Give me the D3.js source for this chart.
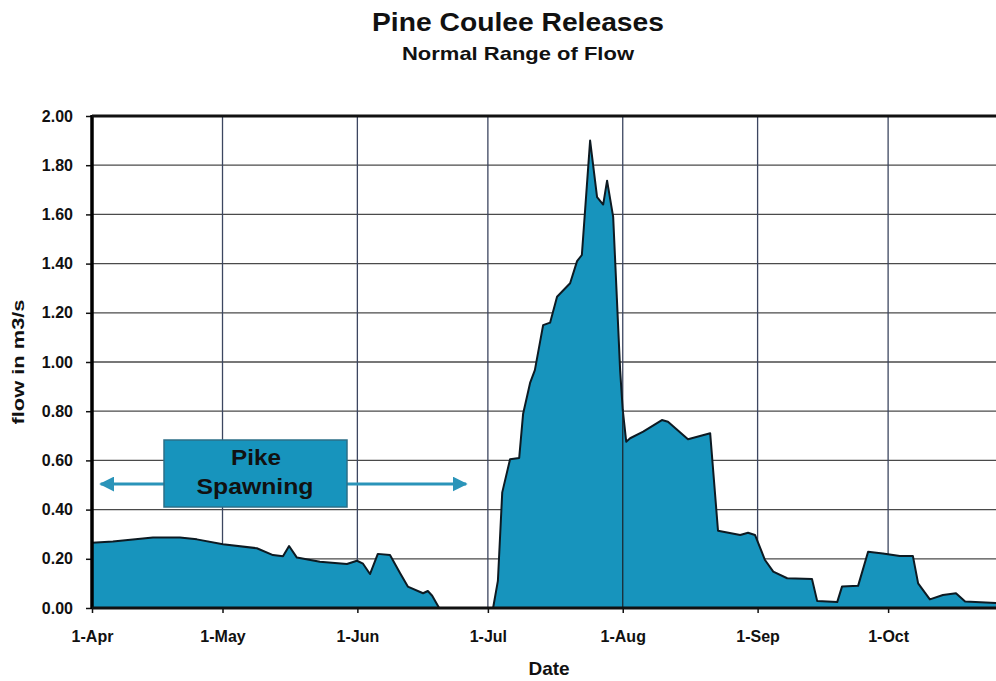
<!DOCTYPE html>
<html><head><meta charset="utf-8">
<script src="https://cdn.jsdelivr.net/npm/d3@7"></script>
<style>
body{margin:0;background:#fff;}
text{font-family:"Liberation Sans",Arial,sans-serif;font-weight:bold;fill:#111;}
</style></head>
<body><svg id="c" width="996" height="681"></svg>
<script>
// Day offsets from 1-Apr and flow values (m3/s)
const dayOffsets = [0,4.8,14,20.2,24.1,30.1,37.9,41.6,43.9,45.3,47.1,52.4,58.6,60.9,62.3,63.9,65.7,68.5,70.8,72.6,76.1,77.2,78.2,79.8,
  92.2,93.3,94.3,96.1,98.2,99.1,100.7,101.8,103.7,105.3,106.9,109.9,111.5,112.6,114.5,116.1,117.5,118.4,119.8,121.4,122,122.8,
  123.7,126.7,131.0,132.4,137.0,142.1,143.9,149.0,150.8,152.4,154.7,156.6,159.8,165.5,166.7,171.3,172.4,176.1,178.4,181.8,
  185.7,188.7,189.9,192.6,195.6,198.6,200.7,207.8];
const flowValues = [0.265,0.27,0.287,0.287,0.279,0.259,0.243,0.215,0.21,0.252,0.205,0.188,0.179,0.192,0.18,0.138,0.22,0.215,0.142,0.087,0.06,0.069,0.05,0.0,
  0.0,0.11,0.47,0.605,0.61,0.79,0.915,0.967,1.15,1.16,1.265,1.32,1.41,1.435,1.90,1.67,1.64,1.737,1.59,0.967,0.805,0.676,
  0.69,0.717,0.764,0.757,0.686,0.71,0.314,0.297,0.306,0.297,0.195,0.148,0.121,0.118,0.028,0.024,0.087,0.09,0.229,0.222,
  0.211,0.211,0.1,0.035,0.053,0.06,0.026,0.02];
const monthLabels = ["1-Apr","1-May","1-Jun","1-Jul","1-Aug","1-Sep","1-Oct"];
const monthOffsets = [0,30,61,91,122,153,183];
const yTicks = [0,0.2,0.4,0.6,0.8,1.0,1.2,1.4,1.6,1.8,2.0];
const spawnStart = 2, spawnEnd = 86; // arrow extent in days

const svg = d3.select("#c");
const L=92, R=996, T=116, B=608;
const x = d3.scaleLinear().domain([0,207.8]).range([L,R]);
const y = d3.scaleLinear().domain([0,2]).range([B,T]);

// grid
svg.append("g").selectAll("line").data(yTicks.slice(1)).join("line")
  .attr("x1",L).attr("x2",R).attr("y1",d=>y(d)).attr("y2",d=>y(d))
  .attr("stroke","#4a4a4a").attr("stroke-width",1.3);
svg.append("g").selectAll("line").data(monthOffsets.slice(1)).join("line")
  .attr("x1",d=>x(d)).attr("x2",d=>x(d)).attr("y1",T).attr("y2",B)
  .attr("stroke","#3c4660").attr("stroke-width",1.3);

const data = dayOffsets.map((d,i)=>[d,flowValues[i]]);
svg.append("path").datum(data)
  .attr("d", d3.area().x(d=>x(d[0])).y0(B).y1(d=>y(d[1])))
  .attr("fill","#1794bd");
svg.append("path").datum(data)
  .attr("d", d3.line().x(d=>x(d[0])).y(d=>y(d[1])))
  .attr("fill","none").attr("stroke","#0d1a22").attr("stroke-width",2).attr("stroke-linejoin","round");
// Aug-1 gridline visible through fill
svg.append("line").attr("x1",x(122)).attr("x2",x(122)).attr("y1",B).attr("y2",y(0.8))
  .attr("stroke","#1b2a33").attr("stroke-width",1.3);

// axes
const yAxis = d3.axisLeft(y).tickValues(yTicks).tickFormat(d3.format(".2f")).tickSize(6).tickPadding(13);
const gy = svg.append("g").attr("transform",`translate(${L},0)`).call(yAxis);
gy.select(".domain").remove();
gy.selectAll("line").attr("stroke","#111").attr("stroke-width",1.5);
gy.selectAll("text").attr("font-size",16).attr("fill","#111").style("font-family","Liberation Sans, Arial").style("font-weight","bold");

const xAxis = d3.axisBottom(x).tickValues(monthOffsets).tickFormat((d,i)=>monthLabels[i]).tickSize(5).tickPadding(18);
const gx = svg.append("g").attr("transform",`translate(0,${B})`).call(xAxis);
gx.select(".domain").remove();
gx.selectAll("line").attr("stroke","#111").attr("stroke-width",1.5);
gx.selectAll("text").attr("font-size",16).attr("fill","#111").style("font-family","Liberation Sans, Arial").style("font-weight","bold");

// frame lines
svg.append("line").attr("x1",L).attr("x2",L).attr("y1",T-1).attr("y2",B+1).attr("stroke","#000").attr("stroke-width",3.5);
svg.append("line").attr("x1",L).attr("x2",R).attr("y1",T).attr("y2",T).attr("stroke","#111").attr("stroke-width",3);
svg.append("line").attr("x1",L).attr("x2",R).attr("y1",B).attr("y2",B).attr("stroke","#111").attr("stroke-width",3);

// titles
svg.append("text").attr("x",518).attr("y",31).attr("text-anchor","middle").attr("font-size",26)
  .attr("textLength",292).attr("lengthAdjust","spacingAndGlyphs").text("Pine Coulee Releases");
svg.append("text").attr("x",518).attr("y",60).attr("text-anchor","middle").attr("font-size",19)
  .attr("textLength",232).attr("lengthAdjust","spacingAndGlyphs").text("Normal Range of Flow");
svg.append("text").attr("x",549).attr("y",675).attr("text-anchor","middle").attr("font-size",19).text("Date");
svg.append("text").attr("transform","translate(24,362) rotate(-90)").attr("text-anchor","middle").attr("font-size",17)
  .attr("textLength",125).attr("lengthAdjust","spacingAndGlyphs").text("flow in m3/s");

// Pike spawning annotation
const ay = 484, ac = "#2a94b9";
const defs = svg.append("defs");
defs.append("marker").attr("id","ah").attr("viewBox","0 0 10 10").attr("refX",9).attr("refY",5)
  .attr("markerWidth",5).attr("markerHeight",5).attr("orient","auto-start-reverse")
  .append("path").attr("d","M0,0 L10,5 L0,10 z").attr("fill",ac);
svg.append("line").attr("x1",x(spawnStart)).attr("x2",x(spawnEnd)).attr("y1",ay).attr("y2",ay)
  .attr("stroke",ac).attr("stroke-width",3).attr("marker-start","url(#ah)").attr("marker-end","url(#ah)");
svg.append("rect").attr("x",164).attr("y",440).attr("width",183).attr("height",67)
  .attr("fill","#1794bd").attr("stroke","#2c6f88").attr("stroke-width",1.5);
svg.append("text").attr("x",256).attr("y",465).attr("text-anchor","middle").attr("font-size",22)
  .attr("textLength",50).attr("lengthAdjust","spacingAndGlyphs").text("Pike");
svg.append("text").attr("x",255).attr("y",494).attr("text-anchor","middle").attr("font-size",22)
  .attr("textLength",117).attr("lengthAdjust","spacingAndGlyphs").text("Spawning");
</script></body></html>
